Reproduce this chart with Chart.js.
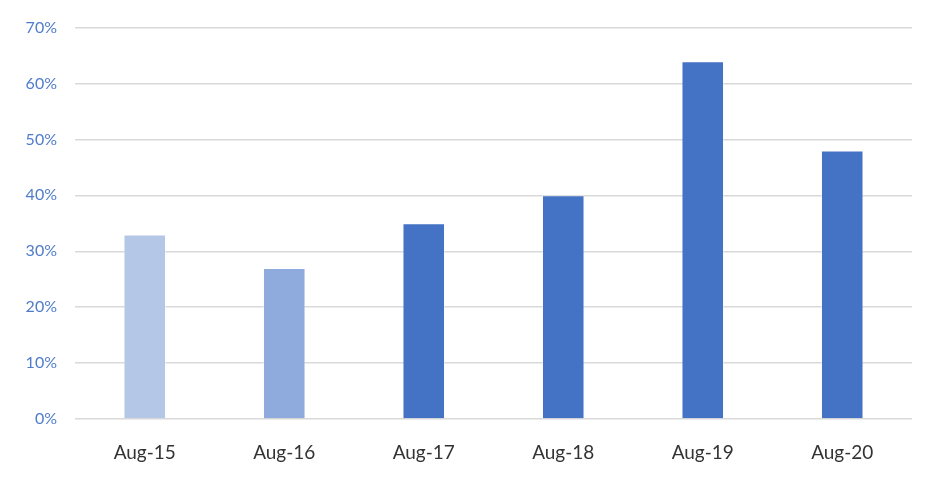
<!DOCTYPE html>
<html lang="en">
<head>
    <meta charset="UTF-8">
    <title>Chart</title>
    <style>
        html, body {
            margin: 0;
            padding: 0;
            background: #ffffff;
        }
        #wrap {
            width: 939px;
            height: 481px;
        }
    </style>
    <script src="https://cdn.jsdelivr.net/npm/chart.js"></script>
</head>
<body>
    <div id="wrap"><canvas id="barChart" width="939" height="481"></canvas></div>

    <script>
        const categories = ['Aug-15', 'Aug-16', 'Aug-17', 'Aug-18', 'Aug-19', 'Aug-20'];
        const values = [33, 27, 35, 40, 64, 48];
        const barColors = ['#B4C7E7', '#8FAADC', '#4472C4', '#4472C4', '#4472C4', '#4472C4'];
        const yTicks = [0, 10, 20, 30, 40, 50, 60, 70];

        const ctx = document.getElementById('barChart').getContext('2d');
        new Chart(ctx, {
            type: 'bar',
            data: {
                labels: categories,
                datasets: [{
                    data: values,
                    backgroundColor: barColors,
                    borderColor: 'rgba(255, 255, 255, 0.35)',
                    borderWidth: 1,
                    categoryPercentage: 1,
                    barPercentage: 0.305
                }]
            },
            options: {
                responsive: false,
                animation: false,
                layout: {
                    padding: { top: 26, right: 27, bottom: 0, left: 0 }
                },
                plugins: {
                    legend: { display: false },
                    tooltip: { enabled: false }
                },
                scales: {
                    x: {
                        grid: { display: false },
                        border: { display: false },
                        ticks: {
                            color: '#333333',
                            padding: 14,
                            font: { family: 'Lato', size: 19 }
                        },
                        afterFit: (axis) => { axis.height = 62; }
                    },
                    y: {
                        min: 0,
                        max: 70,
                        afterBuildTicks: (axis) => {
                            axis.ticks = yTicks.map(v => ({ value: v }));
                        },
                        grid: {
                            color: '#D9D9D9',
                            lineWidth: 1.5,
                            drawTicks: false
                        },
                        border: { display: false },
                        ticks: {
                            color: '#4F7CCB',
                            padding: 18,
                            font: { family: 'Lato', size: 16 },
                            callback: (v) => v + '%'
                        },
                        afterFit: (axis) => { axis.width = 75; }
                    }
                }
            }
        });
    </script>
</body>
</html>
